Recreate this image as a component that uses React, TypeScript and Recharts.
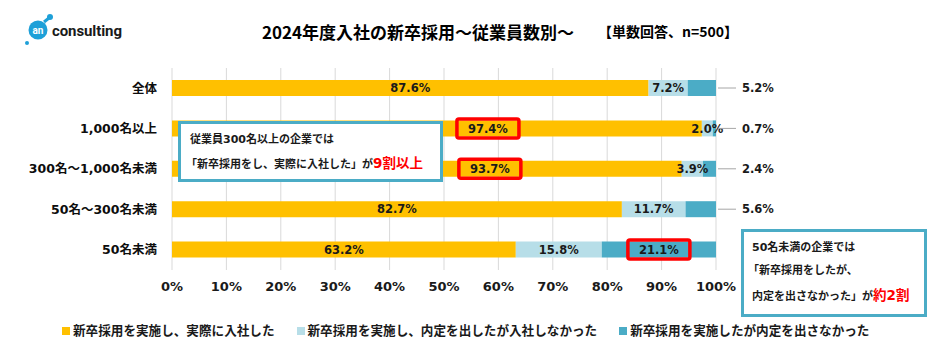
import {
  BarChart,
  Bar,
  XAxis,
  YAxis,
  CartesianGrid,
  LabelList,
  Legend,
} from 'recharts';

const CATEGORIES = ['全体', '1,000名以上', '300名～1,000名未満', '50名～300名未満', '50名未満'];
const JOINED = [87.6, 97.4, 93.7, 82.7, 63.2];
const DECLINED = [7.2, 2.0, 3.9, 11.7, 15.8];
const NO_OFFER = [5.2, 0.7, 2.4, 5.6, 21.1];
const X_TICKS = [0, 10, 20, 30, 40, 50, 60, 70, 80, 90, 100];

const SERIES_NAMES = [
  '新卒採用を実施し、実際に入社した',
  '新卒採用を実施し、内定を出したが入社しなかった',
  '新卒採用を実施したが内定を出さなかった',
];

// red boxes around these labels
const HIGHLIGHT: Record<string, number[]> = {
  joined: [1, 2],
  noOffer: [4],
};
// labels pushed right so they sit clear of the callout box
const NUDGE: Record<number, number> = { 1: 51, 2: 63 };

const YELLOW = '#FFC000';
const LIGHT = '#B7DEE8';
const TEAL = '#4BACC6';
const COLORS = [YELLOW, LIGHT, TEAL];
const FONT = '"DejaVu Sans", "Noto Sans CJK JP", sans-serif';
const JP = '"Noto Sans CJK JP", sans-serif';

const data = CATEGORIES.map((name, i) => ({
  name,
  joined: JOINED[i],
  declined: DECLINED[i],
  noOffer: NO_OFFER[i],
}));

function box(p: any) {
  const vb = p.viewBox && p.viewBox.width != null ? p.viewBox : p;
  return { x: Number(vb.x), y: Number(vb.y), w: Number(vb.width), h: Number(vb.height) };
}

function RedBox({ cx, cy }: { cx: number; cy: number }) {
  return (
    <rect x={cx - 31} y={cy - 9.5} width={62} height={19} rx={2} fill="none" stroke="#FF0000" strokeWidth={3.5} />
  );
}

function makeLabel(key: string) {
  return (p: any) => {
    const { x, y, w, h } = box(p);
    const i = p.index;
    const cy = y + h / 2;
    const text = `${Number(p.value).toFixed(1)}%`;
    const hl = (HIGHLIGHT[key] || []).includes(i);
    if (key === 'noOffer' && p.value < 10) {
      const end = x + w;
      return (
        <g>
          <line x1={end + 2} y1={cy} x2={end + 20} y2={cy} stroke="#a6a6a6" strokeWidth={1} />
          <text x={end + 26} y={cy} dy="0.36em" fontSize={11.5} fontWeight="bold" fill="#1a1a1a" fontFamily={FONT}>
            {text}
          </text>
        </g>
      );
    }
    const cx = x + w / 2 + (key === 'joined' ? NUDGE[i] || 0 : 0);
    return (
      <g>
        {hl && <RedBox cx={cx} cy={cy} />}
        <text x={cx} y={cy} dy="0.36em" textAnchor="middle" fontSize={11.5} fontWeight="bold" fill="#1a1a1a" fontFamily={FONT}>
          {text}
        </text>
      </g>
    );
  };
}

function renderLegend() {
  return (
    <div style={{ display: 'flex', alignItems: 'center', paddingLeft: 62, fontFamily: JP, fontWeight: 'bold', fontSize: 12.6, color: '#1a1a1a' }}>
      {SERIES_NAMES.map((name, i) => (
        <div key={i} style={{ display: 'flex', alignItems: 'center', marginRight: 22 }}>
          <span style={{ display: 'inline-block', width: 8, height: 8, background: COLORS[i], marginRight: 3, marginTop: 3 }} />
          <span>{name}</span>
        </div>
      ))}
    </div>
  );
}

function Logo() {
  return (
    <svg width={140} height={60} style={{ position: 'absolute', left: 0, top: 0 }}>
      <circle cx={50} cy={17} r={3} fill="#1EA0D8" />
      <line x1={44} y1={22} x2={49} y2={18} stroke="#1EA0D8" strokeWidth={3} />
      <circle cx={38} cy={30} r={9.5} fill="#1EA0D8" />
      <circle cx={27} cy={43} r={2} fill="#1EA0D8" />
      <text x={38} y={30} dy="0.35em" textAnchor="middle" fontSize={10} fontWeight="bold" fill="#fff" fontFamily="Roboto, sans-serif">
        an
      </text>
      <text x={52} y={31} dy="0.35em" fontSize={15} fontWeight="bold" fill="#1a1a1a" fontFamily="Roboto, sans-serif" textLength={70}>
        consulting
      </text>
    </svg>
  );
}

const calloutStyle: React.CSSProperties = {
  position: 'absolute',
  background: '#fff',
  border: `3px solid ${TEAL}`,
  boxSizing: 'border-box',
  fontFamily: FONT,
  fontWeight: 'bold',
  fontSize: 11,
  color: '#1a1a1a',
};

export default function App() {
  return (
    <div style={{ position: 'absolute', left: 0, top: 0, width: 932, height: 359, background: '#fff' }}>
      <Logo />
      <div style={{ position: 'absolute', left: 0, top: 19, width: 836, textAlign: 'center', fontFamily: JP, fontWeight: 'bold', fontSize: 17, color: '#000' }}>
        2024年度入社の新卒採用～従業員数別～
      </div>
      <div style={{ position: 'absolute', left: 598, top: 21, fontFamily: JP, fontWeight: 'bold', fontSize: 14, color: '#000' }}>
        【単数回答、n=500】
      </div>
      <BarChart
        width={932}
        height={359}
        data={data}
        layout="vertical"
        barSize={16}
        margin={{ top: 68, right: 216, bottom: 59, left: 0 }}
      >
        <CartesianGrid horizontal={false} stroke="#d9d9d9" />
        <XAxis
          type="number"
          domain={[0, 100]}
          allowDataOverflow
          ticks={X_TICKS}
          tickFormatter={(v) => `${v}%`}
          axisLine={false}
          tickLine={false}
          tickSize={0}
          tickMargin={12}
          tick={{ fontSize: 13, fontWeight: 'bold', fill: '#1a1a1a', fontFamily: FONT }}
        />
        <YAxis
          type="category"
          dataKey="name"
          width={172}
          axisLine={false}
          tickLine={false}
          tickSize={0}
          tickMargin={15}
          tick={{ fontSize: 12.5, fontWeight: 'bold', fill: '#0d0d0d', fontFamily: FONT }}
        />
        <Legend
          layout="horizontal"
          verticalAlign="middle"
          align="center"
          content={renderLegend}
          wrapperStyle={{ top: 320, left: 0, width: 932 }}
        />
        <Bar dataKey="joined" name={SERIES_NAMES[0]} stackId="a" fill={YELLOW} isAnimationActive={false}>
          <LabelList dataKey="joined" content={makeLabel('joined')} />
        </Bar>
        <Bar dataKey="declined" name={SERIES_NAMES[1]} stackId="a" fill={LIGHT} isAnimationActive={false}>
          <LabelList dataKey="declined" content={makeLabel('declined')} />
        </Bar>
        <Bar dataKey="noOffer" name={SERIES_NAMES[2]} stackId="a" fill={TEAL} isAnimationActive={false}>
          <LabelList dataKey="noOffer" content={makeLabel('noOffer')} />
        </Bar>
      </BarChart>
      <div style={{ ...calloutStyle, left: 178, top: 121, width: 265, height: 61 }}>
        <div style={{ position: 'absolute', left: 9, top: 6 }}>従業員300名以上の企業では</div>
        <div style={{ position: 'absolute', left: 5, top: 28, whiteSpace: 'nowrap' }}>
          「新卒採用をし、実際に入社した」が<span style={{ color: '#FF0000', fontSize: 13.5 }}>9割以上</span>
        </div>
      </div>
      <div style={{ ...calloutStyle, left: 741, top: 229, width: 186, height: 88 }}>
        <div style={{ position: 'absolute', left: 8, top: 6 }}>50名未満の企業では</div>
        <div style={{ position: 'absolute', left: 4, top: 29 }}>「新卒採用をしたが、</div>
        <div style={{ position: 'absolute', left: 8, top: 52, whiteSpace: 'nowrap' }}>
          内定を出さなかった」が<span style={{ color: '#FF0000', fontSize: 13.5 }}>約2割</span>
        </div>
      </div>
    </div>
  );
}
